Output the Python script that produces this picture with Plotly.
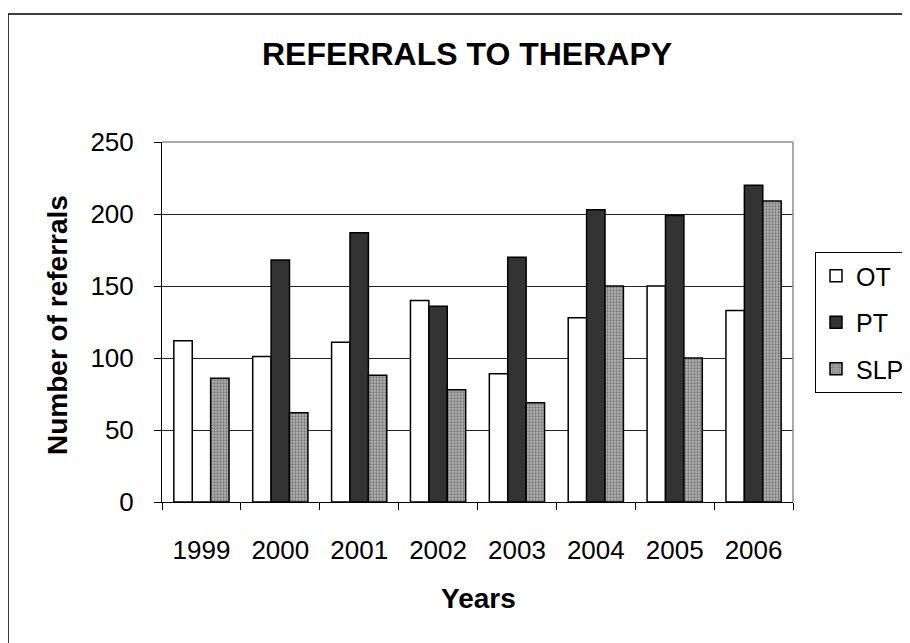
import plotly.graph_objects as go

years = ["1999", "2000", "2001", "2002", "2003", "2004", "2005", "2006"]
ot = [112, 101, 111, 140, 89, 128, 150, 133]
pt = [0, 168, 187, 136, 170, 203, 199, 220]
slp = [86, 62, 88, 78, 69, 150, 100, 209]

FONT = "Arial, Liberation Sans, sans-serif"
OFF = 8  # page body margin
W, H = 902, 635
L, T = 162 - OFF, 142 - OFF
R = W - (793 - OFF)
B = H - (502 - OFF)
PW, PH = W - L - R, H - T - B


def px(x):
    return (x - OFF - L) / PW


def py(y):
    return (H - B - (y - OFF)) / PH


fig = go.Figure()
fig.add_trace(go.Bar(name="OT", x=years, y=ot, legendgroup="a",
                     marker=dict(color="white", line=dict(color="black", width=1.5))))
fig.add_trace(go.Bar(name="PT", x=years, y=pt, legendgroup="b",
                     marker=dict(color="#333333", line=dict(color="black", width=1.5))))
fig.add_trace(go.Bar(name="SLP", x=years, y=slp, legendgroup="c",
                     marker=dict(color="#999999", line=dict(color="black", width=1.5),
                                 pattern=dict(shape=".", fgcolor="#3a3a3a", bgcolor="#b4b4b4",
                                              size=3, solidity=0.45))))

fig.update_layout(
    width=W, height=H,
    margin=dict(l=L, r=R, t=T, b=B, autoexpand=False),
    paper_bgcolor="white", plot_bgcolor="white",
    barmode="group", bargap=0.3, bargroupgap=0,
    font=dict(family=FONT, color="black"),
    showlegend=True,
    legend=dict(x=px(815), y=py(252), xanchor="left", yanchor="top",
                bgcolor="white", bordercolor="black", borderwidth=1,
                font=dict(size=25, family=FONT), tracegroupgap=11,
                traceorder="grouped"),
    xaxis=dict(type="category", showline=True, linecolor="black", linewidth=1,
               ticks="outside", ticklen=7, tickcolor="black", tickson="boundaries",
               tickfont=dict(size=26), ticklabelstandoff=25, showgrid=False),
    yaxis=dict(range=[0, 250], dtick=50, showline=True, linecolor="black", linewidth=1,
               ticks="outside", ticklen=7, tickcolor="black", tickfont=dict(size=26),
               ticklabelstandoff=15, showgrid=True, gridcolor="#222222", gridwidth=1,
               zeroline=False),
    shapes=[
        dict(type="line", xref="paper", yref="paper", x0=0, x1=1, y0=1, y1=1,
             line=dict(color="#8c8c8c", width=1.5), layer="above"),
        dict(type="line", xref="paper", yref="paper", x0=1, x1=1, y0=0, y1=1,
             line=dict(color="#8c8c8c", width=1.5), layer="above"),
        dict(type="rect", xref="paper", yref="paper", x0=px(8), x1=px(1000),
             y0=py(800), y1=py(14), line=dict(color="black", width=1.5)),
    ],
    annotations=[
        dict(text="<b>REFERRALS TO THERAPY</b>", xref="paper", yref="paper",
             x=px(467), y=py(54.5), xanchor="center", yanchor="middle",
             showarrow=False, font=dict(size=32, family=FONT)),
        dict(text="<b>Years</b>", xref="paper", yref="paper",
             x=px(478), y=py(598), xanchor="center", yanchor="middle",
             showarrow=False, font=dict(size=28, family=FONT)),
        dict(text="<b>Number of referrals</b>", xref="paper", yref="paper",
             x=px(57), y=py(325), xanchor="center", yanchor="middle", textangle=-90,
             showarrow=False, font=dict(size=28, family=FONT)),
    ],
)

fig.write_html("out.html")
